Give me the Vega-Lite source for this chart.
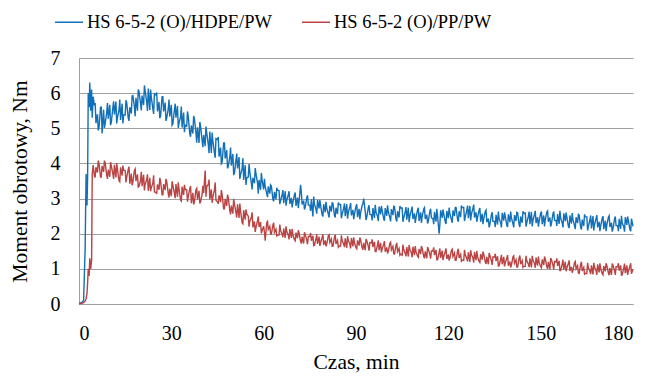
{
  "$schema": "https://vega.github.io/schema/vega-lite/v6.json",
  "width": 554,
  "height": 246,
  "autosize": {"type": "none"},
  "padding": {"left": 79, "top": 58, "right": 19, "bottom": 73},
  "background": "white",
  "config": {
    "view": {"stroke": null},
    "font": "Times New Roman"
  },
  "data": {
    "values": [
      {"t":0,"a":0.02,"b":0.0},{"t":0.5,"a":0.03,"b":0.01},{"t":1,"a":0.05,"b":0.02},{"t":1.5,"a":0.1,"b":0.04},
      {"t":2,"a":1.6,"b":0.08},{"t":2.3,"a":3.7,"b":0.15},{"t":2.6,"a":2.8,"b":0.3},{"t":2.8,"a":3.6,"b":0.6},
      {"t":3.0,"a":6.0,"b":1.0},{"t":3.3,"a":5.6,"b":0.8},{"t":3.5,"a":6.3,"b":1.3},{"t":3.8,"a":5.5,"b":1.0},
      {"t":4.1,"a":6.1,"b":1.25},{"t":4.3,"a":5.3,"b":3.7},{"t":4.6,"a":5.9,"b":3.95},
      {"t":5,"a":5.65,"b":3.65},{"t":5.5,"a":5.15,"b":3.89},{"t":6,"a":5.4,"b":3.74},{"t":6.5,"a":5.02,"b":4.0},
      {"t":7,"a":5.6,"b":3.61},{"t":7.5,"a":4.85,"b":3.93},{"t":8,"a":5.53,"b":3.76},{"t":8.5,"a":5.13,"b":4.02},
      {"t":9,"a":5.45,"b":3.67},{"t":9.5,"a":5.27,"b":3.82},{"t":10,"a":5.67,"b":3.62},{"t":10.5,"a":5.17,"b":3.93},
      {"t":11,"a":5.59,"b":3.7},{"t":11.5,"a":5.39,"b":3.96},{"t":12,"a":5.76,"b":3.6},{"t":12.5,"a":5.31,"b":3.82},
      {"t":13,"a":5.52,"b":3.51},{"t":13.5,"a":5.24,"b":3.89},{"t":14,"a":5.7,"b":3.65},{"t":14.5,"a":5.38,"b":3.81},
      {"t":15,"a":5.38,"b":3.8},{"t":15.5,"a":5.73,"b":3.61},{"t":16,"a":5.29,"b":3.83},{"t":16.5,"a":5.6,"b":3.42},
      {"t":17,"a":5.42,"b":3.71},{"t":17.5,"a":5.93,"b":3.46},{"t":18,"a":5.62,"b":3.8},{"t":18.5,"a":5.87,"b":3.5},
      {"t":19,"a":5.5,"b":3.69},{"t":19.5,"a":6.05,"b":3.35},{"t":20,"a":5.7,"b":3.52},{"t":20.5,"a":5.93,"b":3.35},
      {"t":21,"a":5.66,"b":3.68},{"t":21.5,"a":6.06,"b":3.4},{"t":22,"a":5.75,"b":3.55},{"t":22.5,"a":6.13,"b":3.22},
      {"t":23,"a":5.52,"b":3.59},{"t":23.5,"a":5.88,"b":3.31},{"t":24,"a":5.55,"b":3.44},{"t":24.5,"a":5.98,"b":3.19},
      {"t":25,"a":5.95,"b":3.18},{"t":25.5,"a":5.48,"b":3.4},{"t":26,"a":5.75,"b":3.25},{"t":26.5,"a":5.35,"b":3.5},
      {"t":27,"a":5.9,"b":3.11},{"t":27.5,"a":5.48,"b":3.41},{"t":28,"a":5.73,"b":3.24},{"t":28.5,"a":5.29,"b":3.49},
      {"t":29,"a":5.55,"b":3.14},{"t":29.5,"a":5.33,"b":3.28},{"t":30,"a":5.67,"b":3.07},{"t":30.5,"a":5.13,"b":3.38},
      {"t":31,"a":5.52,"b":3.15},{"t":31.5,"a":5.3,"b":3.41},{"t":32,"a":5.63,"b":3.05},{"t":32.5,"a":5.15,"b":3.27},
      {"t":33,"a":5.32,"b":2.96},{"t":33.5,"a":5.02,"b":3.34},{"t":34,"a":5.45,"b":3.1},{"t":34.5,"a":5.09,"b":3.26},
      {"t":35,"a":5.06,"b":3.25},{"t":35.5,"a":5.34,"b":3.06},{"t":36,"a":4.84,"b":3.28},{"t":36.5,"a":5.08,"b":2.87},
      {"t":37,"a":4.85,"b":3.16},{"t":37.5,"a":5.27,"b":2.91},{"t":38,"a":4.87,"b":3.25},{"t":38.5,"a":5.03,"b":2.98},
      {"t":39,"a":4.58,"b":3.22},{"t":39.5,"a":5.06,"b":2.91},{"t":40,"a":4.65,"b":3.12},{"t":40.5,"a":4.81,"b":3.16},
      {"t":41,"a":4.49,"b":3.8},{"t":41.5,"a":4.87,"b":3.34},{"t":42,"a":4.55,"b":3.4},{"t":42.5,"a":4.91,"b":2.98},
      {"t":43,"a":4.3,"b":3.26},{"t":43.5,"a":4.64,"b":3.05},{"t":44,"a":4.3,"b":3.24},{"t":44.5,"a":4.71,"b":2.95},
      {"t":45,"a":4.68,"b":2.9},{"t":45.5,"a":4.19,"b":3.09},{"t":46,"a":4.45,"b":2.9},{"t":46.5,"a":4.03,"b":3.12},
      {"t":47,"a":4.58,"b":2.71},{"t":47.5,"a":4.14,"b":2.99},{"t":48,"a":4.38,"b":2.79},{"t":48.5,"a":3.92,"b":3.03},
      {"t":49,"a":4.18,"b":2.66},{"t":49.5,"a":3.94,"b":2.8},{"t":50,"a":4.27,"b":2.57},{"t":50.5,"a":3.71,"b":2.85},
      {"t":51,"a":4.1,"b":2.6},{"t":51.5,"a":3.86,"b":2.84},{"t":52,"a":4.18,"b":2.45},{"t":52.5,"a":3.68,"b":2.64},
      {"t":53,"a":3.85,"b":2.31},{"t":53.5,"a":3.53,"b":2.67},{"t":54,"a":3.95,"b":2.4},{"t":54.5,"a":3.59,"b":2.56},
      {"t":55,"a":3.61,"b":2.5},{"t":55.5,"a":3.76,"b":2.36},{"t":56,"a":3.44,"b":2.47},{"t":56.5,"a":3.59,"b":2.18},
      {"t":57,"a":3.44,"b":2.35},{"t":57.5,"a":3.7,"b":2.18},{"t":58,"a":3.45,"b":2.37},{"t":58.5,"a":3.53,"b":2.19},
      {"t":59,"a":3.25,"b":2.33},{"t":59.5,"a":3.52,"b":2.09},{"t":60,"a":3.26,"b":2.21},{"t":60.5,"a":3.34,"b":1.8},
      {"t":61,"a":3.14,"b":2.32},{"t":61.5,"a":3.35,"b":2.12},{"t":62,"a":3.14,"b":2.21},{"t":62.5,"a":3.36,"b":1.99},
      {"t":63,"a":2.98,"b":2.24},{"t":63.5,"a":3.19,"b":2.04},{"t":64,"a":2.98,"b":2.13},{"t":64.5,"a":3.24,"b":1.96},
      {"t":65,"a":3.23,"b":1.96},{"t":65.5,"a":2.94,"b":2.09},{"t":66,"a":3.11,"b":1.98},{"t":66.5,"a":2.87,"b":2.15},
      {"t":67,"a":3.21,"b":1.88},{"t":67.5,"a":2.95,"b":2.07},{"t":68,"a":3.11,"b":1.96},{"t":68.5,"a":2.85,"b":2.13},
      {"t":69,"a":3.02,"b":1.88},{"t":69.5,"a":2.89,"b":1.97},{"t":70,"a":3.11,"b":1.83},{"t":70.5,"a":2.79,"b":2.03},
      {"t":71,"a":3.03,"b":1.87},{"t":71.5,"a":2.91,"b":2.02},{"t":72,"a":3.39,"b":1.78},{"t":72.5,"a":2.83,"b":1.92},
      {"t":73,"a":2.94,"b":1.72},{"t":73.5,"a":2.75,"b":1.98},{"t":74,"a":3.02,"b":1.82},{"t":74.5,"a":2.82,"b":1.92},
      {"t":75,"a":2.81,"b":1.92},{"t":75.5,"a":2.98,"b":1.8},{"t":76,"a":2.49,"b":1.94},{"t":76.5,"a":2.84,"b":1.67},
      {"t":77,"a":2.7,"b":1.86},{"t":77.5,"a":2.96,"b":1.71},{"t":78,"a":2.72,"b":1.92},{"t":78.5,"a":2.81,"b":1.75},
      {"t":79,"a":2.54,"b":1.9},{"t":79.5,"a":2.84,"b":1.68},{"t":80,"a":2.61,"b":1.81},{"t":80.5,"a":2.73,"b":1.71},
      {"t":81,"a":2.56,"b":1.94},{"t":81.5,"a":2.8,"b":1.75},{"t":82,"a":2.63,"b":1.85},{"t":82.5,"a":2.87,"b":1.64},
      {"t":83,"a":2.52,"b":1.9},{"t":83.5,"a":2.74,"b":1.71},{"t":84,"a":2.56,"b":1.81},{"t":84.5,"a":2.83,"b":1.65},
      {"t":85,"a":2.83,"b":1.65},{"t":85.5,"a":2.55,"b":1.8},{"t":86,"a":2.73,"b":1.7},{"t":86.5,"a":2.5,"b":1.87},
      {"t":87,"a":2.84,"b":1.6},{"t":87.5,"a":2.6,"b":1.81},{"t":88,"a":2.77,"b":1.7},{"t":88.5,"a":2.52,"b":1.88},
      {"t":89,"a":2.68,"b":1.64},{"t":89.5,"a":2.56,"b":1.74},{"t":90,"a":2.78,"b":1.6},{"t":90.5,"a":2.47,"b":1.81},
      {"t":91,"a":2.71,"b":1.66},{"t":91.5,"a":2.59,"b":1.82},{"t":92,"a":2.81,"b":1.6},{"t":92.5,"a":3.0,"b":1.74},
      {"t":93,"a":2.64,"b":1.53},{"t":93.5,"a":2.47,"b":1.8},{"t":94,"a":2.74,"b":1.64},{"t":94.5,"a":2.55,"b":1.75},
      {"t":95,"a":2.54,"b":1.74},{"t":95.5,"a":2.73,"b":1.62},{"t":96,"a":2.45,"b":1.77},{"t":96.5,"a":2.62,"b":1.49},
      {"t":97,"a":2.49,"b":1.69},{"t":97.5,"a":2.77,"b":1.53},{"t":98,"a":2.55,"b":1.74},{"t":98.5,"a":2.67,"b":1.57},
      {"t":99,"a":2.42,"b":1.71},{"t":99.5,"a":2.73,"b":1.49},{"t":100,"a":2.51,"b":1.61},{"t":100.5,"a":2.63,"b":1.5},
      {"t":101,"a":2.45,"b":1.73},{"t":101.5,"a":2.7,"b":1.54},{"t":102,"a":2.53,"b":1.64},{"t":102.5,"a":2.77,"b":1.42},
      {"t":103,"a":2.41,"b":1.67},{"t":103.5,"a":2.64,"b":1.49},{"t":104,"a":2.46,"b":1.58},{"t":104.5,"a":2.73,"b":1.42},
      {"t":105,"a":2.73,"b":1.39},{"t":105.5,"a":2.45,"b":1.55},{"t":106,"a":2.63,"b":1.44},{"t":106.5,"a":2.4,"b":1.62},
      {"t":107,"a":2.74,"b":1.35},{"t":107.5,"a":2.5,"b":1.56},{"t":108,"a":2.67,"b":1.45},{"t":108.5,"a":2.42,"b":1.63},
      {"t":109,"a":2.58,"b":1.39},{"t":109.5,"a":2.46,"b":1.49},{"t":110,"a":2.68,"b":1.36},{"t":110.5,"a":2.36,"b":1.57},
      {"t":111,"a":2.61,"b":1.42},{"t":111.5,"a":2.49,"b":1.58},{"t":112,"a":2.7,"b":1.36},{"t":112.5,"a":2.42,"b":1.5},
      {"t":113,"a":2.54,"b":1.3},{"t":113.5,"a":2.36,"b":1.56},{"t":114,"a":2.64,"b":1.41},{"t":114.5,"a":2.45,"b":1.51},
      {"t":115,"a":2.43,"b":1.51},{"t":115.5,"a":2.62,"b":1.39},{"t":116,"a":2.34,"b":1.54},{"t":116.5,"a":2.51,"b":1.26},
      {"t":117,"a":2.0,"b":1.46},{"t":117.5,"a":2.67,"b":1.31},{"t":118,"a":2.45,"b":1.52},{"t":118.5,"a":2.58,"b":1.35},
      {"t":119,"a":2.33,"b":1.5},{"t":119.5,"a":2.65,"b":1.28},{"t":120,"a":2.44,"b":1.41},{"t":120.5,"a":2.57,"b":1.31},
      {"t":121,"a":2.41,"b":1.53},{"t":121.5,"a":2.66,"b":1.35},{"t":122,"a":2.5,"b":1.45},{"t":122.5,"a":2.75,"b":1.24},
      {"t":123,"a":2.4,"b":1.5},{"t":123.5,"a":2.64,"b":1.31},{"t":124,"a":2.47,"b":1.41},{"t":124.5,"a":2.74,"b":1.25},
      {"t":125,"a":2.75,"b":1.24},{"t":125.5,"a":2.48,"b":1.4},{"t":126,"a":2.67,"b":1.29},{"t":126.5,"a":2.44,"b":1.47},
      {"t":127,"a":2.79,"b":1.2},{"t":127.5,"a":2.56,"b":1.41},{"t":128,"a":2.73,"b":1.3},{"t":128.5,"a":2.46,"b":1.48},
      {"t":129,"a":2.61,"b":1.25},{"t":129.5,"a":2.47,"b":1.34},{"t":130,"a":2.67,"b":1.21},{"t":130.5,"a":2.34,"b":1.42},
      {"t":131,"a":2.57,"b":1.26},{"t":131.5,"a":2.43,"b":1.42},{"t":132,"a":2.63,"b":1.2},{"t":132.5,"a":2.33,"b":1.34},
      {"t":133,"a":2.43,"b":1.13},{"t":133.5,"a":2.26,"b":1.39},{"t":134,"a":2.54,"b":1.23},{"t":134.5,"a":2.35,"b":1.34},
      {"t":135,"a":2.35,"b":1.33},{"t":135.5,"a":2.54,"b":1.22},{"t":136,"a":2.26,"b":1.36},{"t":136.5,"a":2.43,"b":1.09},
      {"t":137,"a":2.31,"b":1.28},{"t":137.5,"a":2.59,"b":1.13},{"t":138,"a":2.37,"b":1.34},{"t":138.5,"a":2.49,"b":1.17},
      {"t":139,"a":2.24,"b":1.31},{"t":139.5,"a":2.55,"b":1.09},{"t":140,"a":2.33,"b":1.21},{"t":140.5,"a":2.45,"b":1.11},
      {"t":141,"a":2.28,"b":1.34},{"t":141.5,"a":2.53,"b":1.16},{"t":142,"a":2.36,"b":1.26},{"t":142.5,"a":2.6,"b":1.05},
      {"t":143,"a":2.25,"b":1.31},{"t":143.5,"a":2.49,"b":1.13},{"t":144,"a":2.31,"b":1.23},{"t":144.5,"a":2.58,"b":1.07},
      {"t":145,"a":2.59,"b":1.07},{"t":145.5,"a":2.32,"b":1.23},{"t":146,"a":2.5,"b":1.13},{"t":146.5,"a":2.27,"b":1.3},
      {"t":147,"a":2.62,"b":1.04},{"t":147.5,"a":2.38,"b":1.25},{"t":148,"a":2.55,"b":1.15},{"t":148.5,"a":2.3,"b":1.32},
      {"t":149,"a":2.47,"b":1.09},{"t":149.5,"a":2.35,"b":1.19},{"t":150,"a":2.58,"b":1.06},{"t":150.5,"a":2.27,"b":1.27},
      {"t":151,"a":2.52,"b":1.11},{"t":151.5,"a":2.4,"b":1.28},{"t":152,"a":2.62,"b":1.06},{"t":152.5,"a":2.34,"b":1.2},
      {"t":153,"a":2.46,"b":0.99},{"t":153.5,"a":2.29,"b":1.26},{"t":154,"a":2.57,"b":1.1},{"t":154.5,"a":2.38,"b":1.21},
      {"t":155,"a":2.38,"b":1.2},{"t":155.5,"a":2.56,"b":1.08},{"t":156,"a":2.28,"b":1.23},{"t":156.5,"a":2.44,"b":0.95},
      {"t":157,"a":2.31,"b":1.14},{"t":157.5,"a":2.58,"b":0.98},{"t":158,"a":2.36,"b":1.2},{"t":158.5,"a":2.47,"b":1.02},
      {"t":159,"a":2.21,"b":1.16},{"t":159.5,"a":2.52,"b":0.94},{"t":160,"a":2.29,"b":1.06},{"t":160.5,"a":2.4,"b":0.96},
      {"t":161,"a":2.23,"b":1.18},{"t":161.5,"a":2.47,"b":1.0},{"t":162,"a":2.3,"b":1.09},{"t":162.5,"a":2.53,"b":0.87},
      {"t":163,"a":2.18,"b":1.13},{"t":163.5,"a":2.4,"b":0.94},{"t":164,"a":2.22,"b":1.04},{"t":164.5,"a":2.48,"b":0.87},
      {"t":165,"a":2.48,"b":0.87},{"t":165.5,"a":2.21,"b":1.03},{"t":166,"a":2.39,"b":0.93},{"t":166.5,"a":2.15,"b":1.1},
      {"t":167,"a":2.5,"b":0.84},{"t":167.5,"a":2.26,"b":1.05},{"t":168,"a":2.43,"b":0.95},{"t":168.5,"a":2.18,"b":1.13},
      {"t":169,"a":2.34,"b":0.9},{"t":169.5,"a":2.22,"b":1.0},{"t":170,"a":2.44,"b":0.86},{"t":170.5,"a":2.13,"b":1.08},
      {"t":171,"a":2.37,"b":0.93},{"t":171.5,"a":2.25,"b":1.1},{"t":172,"a":2.47,"b":0.88},{"t":172.5,"a":2.19,"b":1.03},
      {"t":173,"a":2.31,"b":0.83},{"t":173.5,"a":2.14,"b":1.1},{"t":174,"a":2.42,"b":0.95},{"t":174.5,"a":2.23,"b":1.06},
      {"t":175,"a":2.23,"b":1.06},{"t":175.5,"a":2.42,"b":0.95},{"t":176,"a":2.14,"b":1.1},{"t":176.5,"a":2.31,"b":0.83},
      {"t":177,"a":2.19,"b":1.03},{"t":177.5,"a":2.47,"b":0.88},{"t":178,"a":2.25,"b":1.1},{"t":178.5,"a":2.37,"b":0.93},
      {"t":179,"a":2.12,"b":1.08},{"t":179.5,"a":2.43,"b":0.86},{"t":180,"a":2.21,"b":0.99},
      {"t":5.25,"a":5.72,"b":3.6},{"t":6.25,"a":4.94,"b":4.08},{"t":7.25,"a":5.6,"b":3.61},{"t":8.25,"a":5.01,"b":4.08},
      {"t":9.25,"a":5.72,"b":3.56},{"t":10.25,"a":5.09,"b":4.04},{"t":11.25,"a":5.77,"b":3.56},{"t":12.25,"a":5.14,"b":4.01},
      {"t":13.25,"a":5.82,"b":3.48},{"t":14.25,"a":5.14,"b":3.94},{"t":15.25,"a":5.8,"b":3.46},{"t":16.25,"a":5.21,"b":3.91},
      {"t":17.25,"a":5.92,"b":3.38},{"t":18.25,"a":5.34,"b":3.84},{"t":19.25,"a":6.1,"b":3.33},{"t":20.25,"a":5.51,"b":3.76},
      {"t":21.25,"a":6.22,"b":3.23},{"t":22.25,"a":5.49,"b":3.69},{"t":23.25,"a":6.1,"b":3.21},{"t":24.25,"a":5.41,"b":3.66},
      {"t":25.25,"a":6.02,"b":3.13},{"t":26.25,"a":5.29,"b":3.59},{"t":27.25,"a":5.9,"b":3.11},{"t":28.25,"a":5.21,"b":3.56},
      {"t":29.25,"a":5.82,"b":3.03},{"t":30.25,"a":5.09,"b":3.49},{"t":31.25,"a":5.7,"b":3.01},{"t":32.25,"a":5.01,"b":3.46},
      {"t":33.25,"a":5.62,"b":2.93},{"t":34.25,"a":4.89,"b":3.39},{"t":35.25,"a":5.48,"b":2.91},{"t":36.25,"a":4.76,"b":3.36},
      {"t":37.25,"a":5.35,"b":2.83},{"t":38.25,"a":4.59,"b":3.29},{"t":39.25,"a":5.18,"b":2.86},{"t":40.25,"a":4.46,"b":3.36},
      {"t":41.25,"a":5.05,"b":3.05},{"t":42.25,"a":4.29,"b":3.54},{"t":43.25,"a":4.88,"b":2.88},{"t":44.25,"a":4.16,"b":3.46},
      {"t":45.25,"a":4.75,"b":2.85},{"t":46.25,"a":3.99,"b":3.24},{"t":47.25,"a":4.58,"b":2.71},{"t":48.25,"a":3.86,"b":3.11},
      {"t":49.25,"a":4.45,"b":2.55},{"t":50.25,"a":3.69,"b":2.99},{"t":51.25,"a":4.28,"b":2.46},{"t":52.25,"a":3.56,"b":2.86},
      {"t":53.25,"a":4.15,"b":2.28},{"t":54.25,"a":3.39,"b":2.69},{"t":55.25,"a":3.98,"b":2.2},{"t":56.25,"a":3.26,"b":2.61},
      {"t":57.25,"a":3.87,"b":2.05},{"t":58.25,"a":3.14,"b":2.49},{"t":59.25,"a":3.73,"b":2.01},{"t":60.25,"a":3.56,"b":2.04},
      {"t":61.25,"a":3.04,"b":2.35},{"t":62.25,"a":3.39,"b":2.0},{"t":63.25,"a":2.92,"b":2.31},{"t":64.25,"a":3.31,"b":1.94},
      {"t":65.25,"a":2.84,"b":2.26},{"t":66.25,"a":3.24,"b":1.9},{"t":67.25,"a":2.8,"b":2.21},{"t":68.25,"a":3.21,"b":1.84},
      {"t":69.25,"a":2.75,"b":2.14},{"t":70.25,"a":3.17,"b":1.8},{"t":71.25,"a":2.73,"b":2.1},{"t":72.25,"a":3.16,"b":1.72},
      {"t":73.25,"a":2.69,"b":2.04},{"t":74.25,"a":3.09,"b":1.7},{"t":75.25,"a":2.65,"b":2.02},{"t":76.25,"a":3.06,"b":1.66},
      {"t":77.25,"a":2.57,"b":1.98},{"t":78.25,"a":2.96,"b":1.65},{"t":79.25,"a":2.49,"b":1.98},{"t":80.25,"a":2.91,"b":1.64},
      {"t":81.25,"a":2.46,"b":1.97},{"t":82.25,"a":2.88,"b":1.64},{"t":83.25,"a":2.46,"b":1.97},{"t":84.25,"a":2.89,"b":1.62},
      {"t":85.25,"a":2.44,"b":1.95},{"t":86.25,"a":2.86,"b":1.62},{"t":87.25,"a":2.43,"b":1.93},{"t":88.25,"a":2.87,"b":1.58},
      {"t":89.25,"a":2.41,"b":1.9},{"t":90.25,"a":2.84,"b":1.57},{"t":91.25,"a":2.41,"b":1.89},{"t":92.25,"a":2.85,"b":1.54},
      {"t":93.25,"a":2.39,"b":1.85},{"t":94.25,"a":2.81,"b":1.52},{"t":95.25,"a":2.38,"b":1.84},{"t":96.25,"a":2.82,"b":1.49},
      {"t":97.25,"a":2.36,"b":1.81},{"t":98.25,"a":2.79,"b":1.47},{"t":99.25,"a":2.37,"b":1.79},{"t":100.25,"a":2.81,"b":1.44},
      {"t":101.25,"a":2.35,"b":1.76},{"t":102.25,"a":2.78,"b":1.43},{"t":103.25,"a":2.35,"b":1.74},{"t":104.25,"a":2.79,"b":1.39},
      {"t":105.25,"a":2.34,"b":1.69},{"t":106.25,"a":2.76,"b":1.36},{"t":107.25,"a":2.33,"b":1.68},{"t":108.25,"a":2.77,"b":1.33},
      {"t":109.25,"a":2.31,"b":1.65},{"t":110.25,"a":2.74,"b":1.33},{"t":111.25,"a":2.31,"b":1.65},{"t":112.25,"a":2.74,"b":1.3},
      {"t":113.25,"a":2.29,"b":1.62},{"t":114.25,"a":2.71,"b":1.29},{"t":115.25,"a":2.27,"b":1.61},{"t":116.25,"a":2.71,"b":1.26},
      {"t":117.25,"a":2.26,"b":1.58},{"t":118.25,"a":2.69,"b":1.25},{"t":119.25,"a":2.28,"b":1.58},{"t":120.25,"a":2.74,"b":1.24},
      {"t":121.25,"a":2.31,"b":1.56},{"t":122.25,"a":2.75,"b":1.24},{"t":123.25,"a":2.34,"b":1.57},{"t":124.25,"a":2.8,"b":1.22},
      {"t":125.25,"a":2.36,"b":1.54},{"t":126.25,"a":2.8,"b":1.21},{"t":127.25,"a":2.38,"b":1.53},{"t":128.25,"a":2.83,"b":1.18},
      {"t":129.25,"a":2.34,"b":1.51},{"t":130.25,"a":2.73,"b":1.18},{"t":131.25,"a":2.27,"b":1.49},{"t":132.25,"a":2.67,"b":1.14},
      {"t":133.25,"a":2.18,"b":1.45},{"t":134.25,"a":2.61,"b":1.11},{"t":135.25,"a":2.19,"b":1.43},{"t":136.25,"a":2.63,"b":1.08},
      {"t":137.25,"a":2.18,"b":1.4},{"t":138.25,"a":2.61,"b":1.07},{"t":139.25,"a":2.19,"b":1.39},{"t":140.25,"a":2.63,"b":1.04},
      {"t":141.25,"a":2.18,"b":1.37},{"t":142.25,"a":2.61,"b":1.05},{"t":143.25,"a":2.19,"b":1.38},{"t":144.25,"a":2.64,"b":1.04},
      {"t":145.25,"a":2.2,"b":1.37},{"t":146.25,"a":2.63,"b":1.05},{"t":147.25,"a":2.21,"b":1.37},{"t":148.25,"a":2.65,"b":1.03},
      {"t":149.25,"a":2.2,"b":1.35},{"t":150.25,"a":2.63,"b":1.03},{"t":151.25,"a":2.21,"b":1.35},{"t":152.25,"a":2.65,"b":1.0},
      {"t":153.25,"a":2.2,"b":1.31},{"t":154.25,"a":2.63,"b":0.98},{"t":155.25,"a":2.22,"b":1.3},{"t":156.25,"a":2.65,"b":0.95},
      {"t":157.25,"a":2.18,"b":1.26},{"t":158.25,"a":2.6,"b":0.93},{"t":159.25,"a":2.16,"b":1.24},{"t":160.25,"a":2.59,"b":0.89},
      {"t":161.25,"a":2.13,"b":1.21},{"t":162.25,"a":2.55,"b":0.88},{"t":163.25,"a":2.12,"b":1.2},{"t":164.25,"a":2.55,"b":0.85},
      {"t":165.25,"a":2.09,"b":1.17},{"t":166.25,"a":2.52,"b":0.85},{"t":167.25,"a":2.09,"b":1.17},{"t":168.25,"a":2.53,"b":0.83},
      {"t":169.25,"a":2.07,"b":1.16},{"t":170.25,"a":2.5,"b":0.83},{"t":171.25,"a":2.07,"b":1.16},{"t":172.25,"a":2.51,"b":0.82},
      {"t":173.25,"a":2.06,"b":1.15},{"t":174.25,"a":2.49,"b":0.83},{"t":175.25,"a":2.07,"b":1.16},{"t":176.25,"a":2.51,"b":0.82},
      {"t":177.25,"a":2.06,"b":1.15},{"t":178.25,"a":2.49,"b":0.83},{"t":179.25,"a":2.07,"b":1.16}
    ]
  },
  "transform": [{"fold": ["a", "b"], "as": ["s", "v"]}],
  "mark": {"type": "line", "strokeWidth": 1.4, "interpolate": "linear"},
  "encoding": {
    "x": {
      "field": "t",
      "type": "quantitative",
      "scale": {"domain": [0, 180], "nice": false, "zero": false},
      "axis": {
        "values": [0, 30, 60, 90, 120, 150, 180],
        "grid": false,
        "ticks": false,
        "domain": true,
        "domainColor": "#a0a0a0",
        "labelFont": "Times New Roman",
        "labelFontSize": 20,
        "labelColor": "black",
        "labelPadding": 19,
        "title": "Czas, min",
        "titleFont": "Times New Roman",
        "titleFontSize": 21.5,
        "titleFontWeight": "normal",
        "titleColor": "black",
        "titlePadding": 8
      }
    },
    "y": {
      "field": "v",
      "type": "quantitative",
      "scale": {"domain": [0, 7], "nice": false},
      "axis": {
        "values": [0, 1, 2, 3, 4, 5, 6, 7],
        "grid": true,
        "gridColor": "#a0a0a0",
        "gridWidth": 1,
        "ticks": false,
        "domain": true,
        "domainColor": "#a0a0a0",
        "labelFont": "Times New Roman",
        "labelFontSize": 20,
        "labelColor": "black",
        "labelPadding": 19,
        "title": "Moment obrotowy, Nm",
        "titleFont": "Times New Roman",
        "titleFontSize": 21.5,
        "titleFontWeight": "normal",
        "titleColor": "black",
        "titlePadding": 19
      }
    },
    "color": {
      "field": "s",
      "type": "nominal",
      "scale": {"domain": ["a", "b"], "range": ["#1170b8", "#ba4343"]},
      "legend": {
        "title": null,
        "orient": "none",
        "legendX": -25,
        "legendY": -51,
        "direction": "horizontal",
        "symbolType": "stroke",
        "symbolSize": 784,
        "symbolStrokeWidth": 1.5,
        "labelFont": "Times New Roman",
        "labelFontSize": 18.5,
        "labelColor": "black",
        "labelOffset": 3,
        "columnPadding": 27,
        "labelLimit": 400,
        "labelExpr": "datum.label == 'a' ? 'HS 6-5-2 (O)/HDPE/PW' : 'HS 6-5-2 (O)/PP/PW'"
      }
    }
  }
}
